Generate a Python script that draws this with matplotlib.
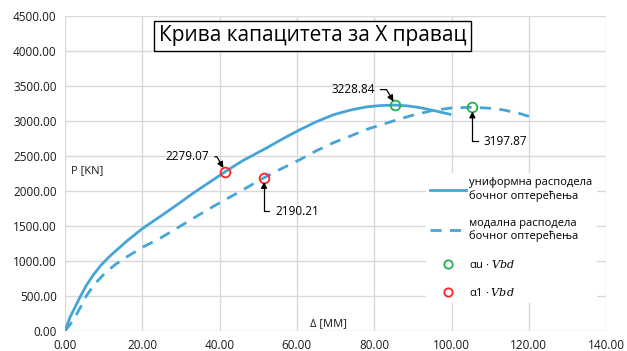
import matplotlib.pyplot as plt
from matplotlib.lines import Line2D

plt.rcParams['font.family'] = ['Open Sans', 'DejaVu Sans']
plt.rcParams['mathtext.fontset'] = 'dejavuserif'

# Pushover curves (displacement in mm, base shear in kN)
uni_x = [0, 1.3, 3.9, 5.5, 7.3, 9.3, 11.6, 16, 20, 24.6, 29, 33.2, 37.5, 41.5, 46,
         52.2, 56.5, 60.8, 65, 69.4, 74, 78, 81.5, 85.5, 88.5, 91.8, 95.5, 99.6]
uni_y = [0, 198, 486, 650, 800, 940, 1070, 1286, 1463, 1636, 1805, 1972, 2130,
         2279.07, 2435, 2618, 2752, 2878, 2990, 3090, 3160, 3203, 3222, 3228.84,
         3218, 3193, 3150, 3097]
mod_x = [0, 2.1, 4, 5.5, 7.5, 10.2, 13, 16, 20.3, 24.6, 29, 33.2, 39, 45.3, 51.5,
         56, 60.8, 65, 69.4, 74, 78, 82, 86, 90, 95, 100, 105.4, 109.5, 113.4,
         117.5, 122]
mod_y = [0, 150, 340, 500, 660, 820, 950, 1060, 1204, 1325, 1470, 1612, 1800, 1995,
         2190.21, 2320, 2450, 2575, 2690, 2790, 2881, 2950, 3020, 3085, 3150, 3188,
         3197.87, 3185, 3160, 3110, 3035]

# characteristic points
au_x = [85.5, 105.4]
au_y = [3228.84, 3197.87]
a1_x = [41.5, 51.5]
a1_y = [2279.07, 2190.21]

xticks = [0, 20, 40, 60, 80, 100, 120, 140]
yticks = [0, 500, 1000, 1500, 2000, 2500, 3000, 3500, 4000, 4500]

blue = '#45a5d6'

fig = plt.figure(figsize=(6.27, 3.51), dpi=100)
ax = fig.add_axes([0.1037, 0.057, 0.863, 0.897])

ax.plot(uni_x, uni_y, color=blue, lw=2)
ax.plot(mod_x, mod_y, color=blue, lw=2, ls=(0, (4, 3)))
ax.plot(au_x, au_y, 'o', ms=7, mfc='none', mec='#22b14c', mew=1.3)
ax.plot(a1_x, a1_y, 'o', ms=7, mfc='none', mec='#ff2222', mew=1.3)

ax.set_xlim(0, 140)
ax.set_ylim(0, 4500)
ax.set_xticks(xticks)
ax.set_yticks(yticks)
ax.set_xticklabels([f'{v:.2f}' for v in xticks])
ax.set_yticklabels([f'{v:.2f}' for v in yticks])
ax.tick_params(length=0, labelsize=8.5, colors='#1a1a1a', pad=6)
ax.grid(True, color='#d9d9d9', lw=1)
ax.set_axisbelow(True)
for s in ax.spines.values():
    s.set_visible(False)

ax.text(1.5, 2250, 'P [KN]', fontsize=8, color='#1a1a1a')
ax.text(63.5, 70, 'Δ [MM]', fontsize=8, color='#1a1a1a')

ax.text(64.0, 4220, 'Крива капацитета за X правац', fontsize=15, ha='center',
        va='center', bbox=dict(boxstyle='square,pad=0.22', fc='white', ec='black', lw=1))

arrow = dict(arrowstyle='-|>', color='black', lw=0.9, mutation_scale=9, shrinkB=3)
ax.annotate('2279.07', xy=(41.5, 2279.07), xytext=(31.7, 2490), fontsize=8.5,
            ha='center', va='center',
            arrowprops=dict(arrow, connectionstyle='angle,angleA=0,angleB=-60,rad=0'))
ax.annotate('3228.84', xy=(85.5, 3228.84), xytext=(74.5, 3450), fontsize=8.5,
            ha='center', va='center',
            arrowprops=dict(arrow, connectionstyle='angle,angleA=0,angleB=-60,rad=0'))
ax.annotate('3197.87', xy=(105.4, 3197.87), xytext=(114.0, 2715), fontsize=8.5,
            ha='center', va='center',
            arrowprops=dict(arrow, connectionstyle='angle,angleA=0,angleB=90,rad=0'))
ax.annotate('2190.21', xy=(51.5, 2190.21), xytext=(60.0, 1715), fontsize=8.5,
            ha='center', va='center',
            arrowprops=dict(arrow, connectionstyle='angle,angleA=0,angleB=90,rad=0'))

handles = [
    Line2D([], [], color=blue, lw=2),
    Line2D([], [], color=blue, lw=2, ls=(0, (4, 3))),
    Line2D([], [], ls='none', marker='o', ms=6, mfc='none', mec='#22b14c', mew=1.3),
    Line2D([], [], ls='none', marker='o', ms=6, mfc='none', mec='#ff2222', mew=1.3),
]
labels = ['униформна расподела\nбочног оптерећења',
          'модална расподела\nбочног оптерећења',
          r'αu · $Vbd$', r'α1 · $Vbd$']
leg = ax.legend(handles, labels, loc='upper right', bbox_to_anchor=(0.993, 0.52),
                fontsize=8, frameon=True, framealpha=1, edgecolor='white',
                fancybox=False, handlelength=3.2, handletextpad=0.3,
                labelspacing=1.45, borderpad=0.4)
leg.get_frame().set_linewidth(0)

fig.savefig('out.png', dpi=100)
